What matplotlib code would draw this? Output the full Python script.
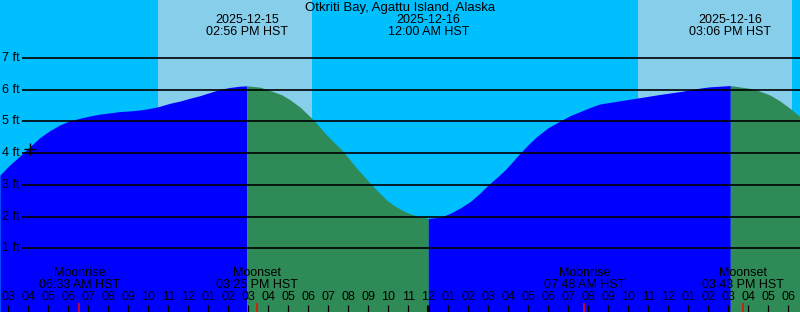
import matplotlib
matplotlib.use("Agg")
import matplotlib.pyplot as plt

# hours since 2025-12-15 00:00 HST
tide_hours = [
    2.58, 3.08, 3.58, 4.08, 4.58, 5.08, 5.58, 6.08, 6.58, 7.08, 7.58, 8.08,
    8.58, 9.08, 9.58, 10.08, 10.48, 11.08, 11.58, 12.08, 12.58, 13.08, 13.58,
    14.08, 14.58, 14.93,
    15.59, 16.24, 16.70, 17.09, 17.59, 18.17, 18.55, 18.92, 19.33, 19.75,
    20.08, 20.42, 20.80, 21.17, 21.55, 21.92, 22.33, 22.75, 23.17, 23.59,
    24.00,
    24.59, 25.09, 25.59, 26.09, 26.55, 27.00, 27.42, 27.84, 28.21, 28.59,
    29.00, 29.42, 29.99, 30.59,
    31.09, 31.59, 32.09, 32.59, 33.59, 34.59, 35.59, 36.59, 37.59, 38.09,
    39.10,
    40.09, 40.59, 41.09, 41.59, 42.09, 42.59,
]
tide_ft = [
    3.31, 3.63, 3.91, 4.20, 4.49, 4.71, 4.89, 5.02, 5.10, 5.17, 5.23, 5.27,
    5.31, 5.33, 5.36, 5.41, 5.46, 5.57, 5.64, 5.73, 5.81, 5.91, 6.01,
    6.07, 6.11, 6.12,
    6.08, 5.94, 5.83, 5.68, 5.45, 5.10, 4.84, 4.57, 4.31, 4.05,
    3.79, 3.52, 3.26, 3.00, 2.75, 2.52, 2.33, 2.18, 2.07, 2.00,
    1.94,
    1.98, 2.10, 2.27, 2.47, 2.72, 3.00, 3.23, 3.47, 3.73, 4.00,
    4.27, 4.52, 4.80, 5.01,
    5.18, 5.31, 5.44, 5.55, 5.65, 5.75, 5.85, 5.94, 6.05, 6.09,
    6.13,
    6.04, 5.95, 5.83, 5.64, 5.41, 5.15,
]

# turning points (high / low) with their labels
turn_hours = [14.93, 24.00, 39.10]
turn_dates = ["2025-12-15", "2025-12-16", "2025-12-16"]
turn_times = ["02:56 PM HST", "12:00 AM HST", "03:06 PM HST"]

# daylight (sunrise, sunset)
daylight = [(10.48, 18.17), (34.47, 42.17)]

# moon events
moon_hours = [6.55, 15.42, 31.80, 39.72]
moon_names = ["Moonrise", "Moonset", "Moonrise", "Moonset"]
moon_times = ["06:33 AM HST", "03:25 PM HST", "07:48 AM HST", "03:43 PM HST"]

levels = [1, 2, 3, 4, 5, 6, 7]
hour_ticks = list(range(3, 43))
hour_labels = [f"{(h - 1) % 12 + 1:02d}" for h in hour_ticks]
midnight = 24

now_hour, now_ft = 4.08, 4.12

title = "Otkriti Bay, Agattu Island, Alaska"

X0, X1 = 2.585, 42.585
Y0, Y1 = -1.009, 8.827

plt.rcParams["font.family"] = ["Liberation Sans", "DejaVu Sans"]
FS = 9

fig = plt.figure(figsize=(8, 3.12), dpi=100)
fig.patch.set_facecolor("#00bfff")
ax = fig.add_axes([0, 0, 1, 1])
ax.set_xlim(X0, X1)
ax.set_ylim(Y0, Y1)
ax.set_facecolor("#00bfff")
for s in ax.spines.values():
    s.set_visible(False)
ax.set_xticks([])
ax.set_yticks([])

for start, end in daylight:
    ax.axvspan(start, end, color="#87ceeb", zorder=0, lw=0)

# split the curve at each turning point: rising = blue, falling = green
idx = [0] + [tide_hours.index(t) for t in turn_hours] + [len(tide_hours) - 1]
for k in range(len(idx) - 1):
    seg_t = tide_hours[idx[k]:idx[k + 1] + 1]
    seg_y = tide_ft[idx[k]:idx[k + 1] + 1]
    rising = seg_y[-1] > seg_y[0]
    ax.fill_between(seg_t, Y0, seg_y, color="#0000ff" if rising else "#2e8b57",
                    lw=0, zorder=1)

xt = ax.get_yaxis_transform()   # x in axes fraction, y in data
yt = ax.get_xaxis_transform()   # x in data, y in axes fraction

ax.hlines(levels, 22 / 800, 1, transform=xt, color="black", lw=1.2, zorder=2)
for lv in levels:
    ax.text(2 / 800, lv, f"{lv} ft", transform=xt, ha="left", va="center",
            fontsize=FS, zorder=3)

ax.plot(now_hour, now_ft, marker="+", color="black", ms=8, mew=1, zorder=3)

ax.text(0.5, 1 - 7.5 / 312, title, transform=ax.transAxes, ha="center",
        va="center", fontsize=9.5)
for t, d, tm in zip(turn_hours, turn_dates, turn_times):
    ax.text(t, 1 - 20 / 312, d, transform=yt, ha="center", va="center", fontsize=FS)
    ax.text(t, 1 - 31.7 / 312, tm, transform=yt, ha="center", va="center", fontsize=FS)

# hour ticks along the bottom
for h, lab in zip(hour_ticks, hour_labels):
    ax.text(h, 15 / 312, lab, transform=yt, ha="center", va="center", fontsize=FS)
    ax.vlines(h, 0, 7 / 312, transform=yt, color="black",
              lw=2.2 if h == midnight else 0.9, zorder=3)

for t, name, tm in zip(moon_hours, moon_names, moon_times):
    ax.vlines(t, 0, 9 / 312, transform=yt, color="red", lw=1.1, zorder=4)
    ax.text(t, 38.7 / 312, name, transform=yt, ha="center", va="center", fontsize=FS)
    ax.text(t, 27 / 312, tm, transform=yt, ha="center", va="center", fontsize=FS)

fig.savefig("out.png", dpi=100, facecolor=fig.get_facecolor())
